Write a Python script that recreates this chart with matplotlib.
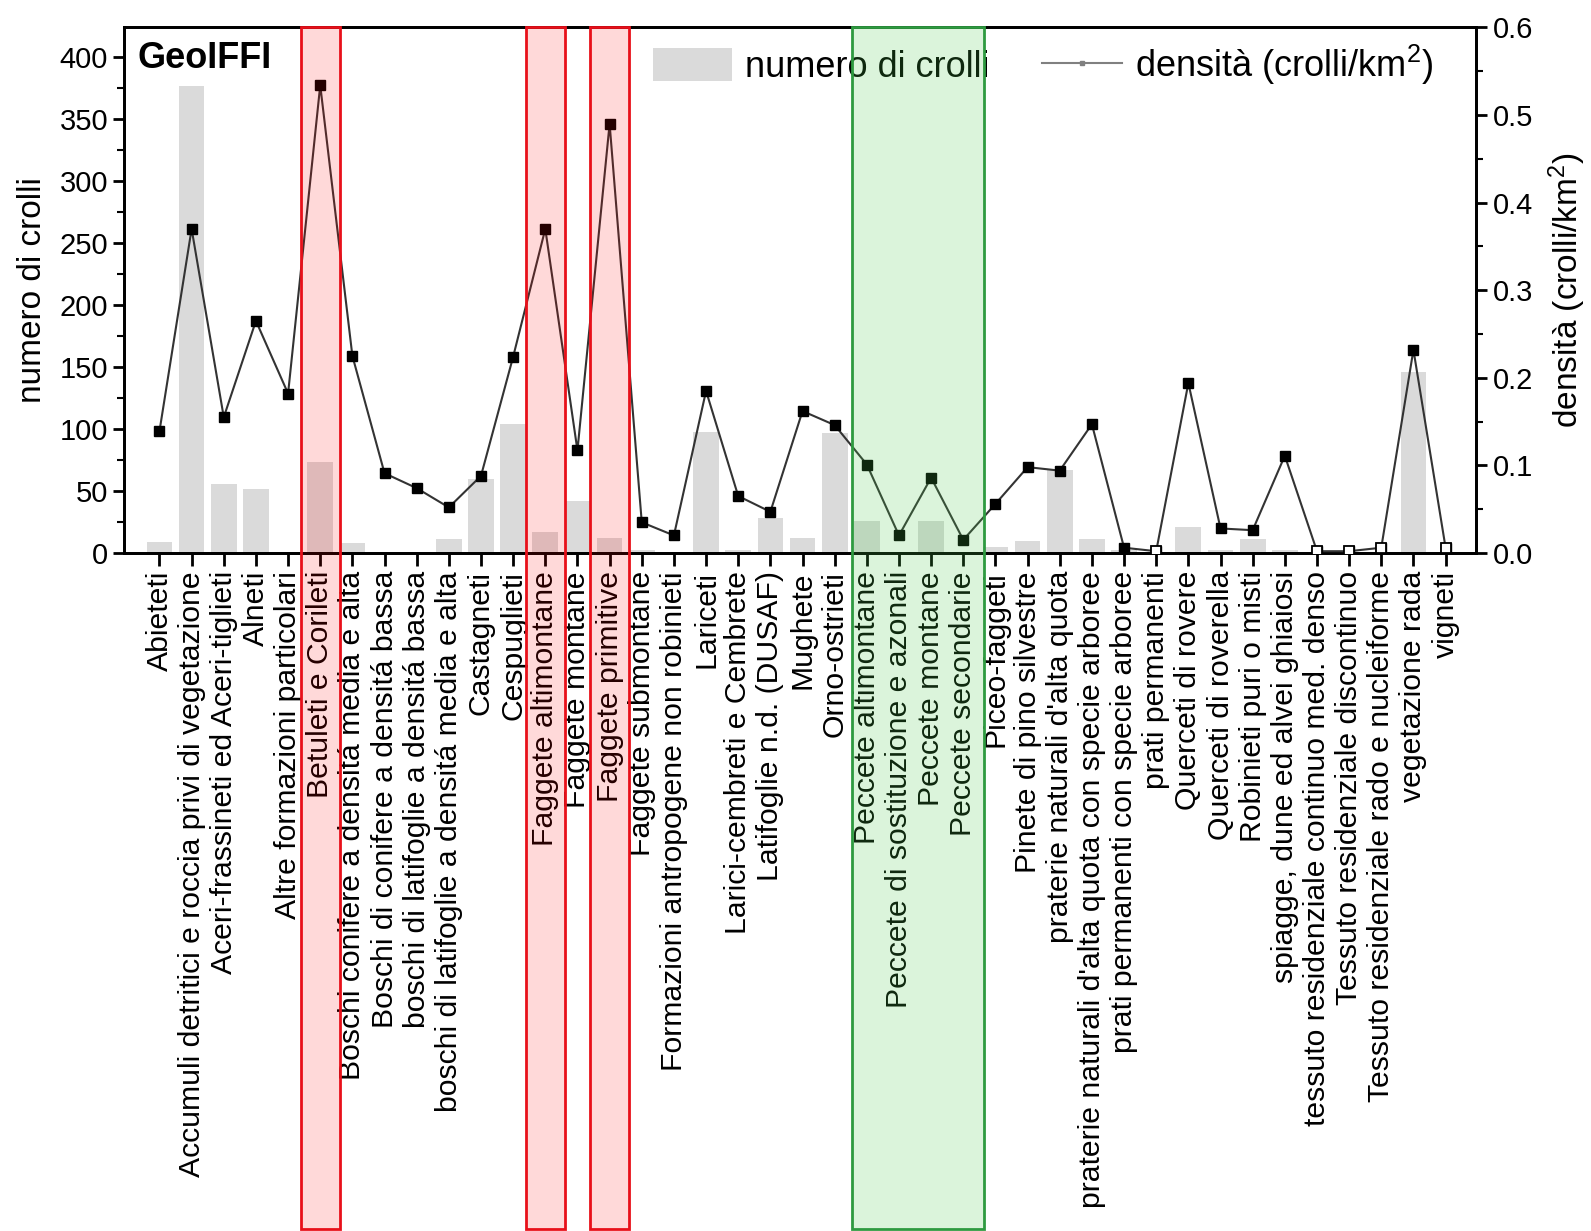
import numpy as np
import matplotlib.pyplot as plt
from matplotlib.patches import Rectangle
from matplotlib.lines import Line2D
from matplotlib.patches import Patch
import matplotlib.transforms as mtransforms

plt.rcParams['font.family'] = ['Liberation Sans', 'DejaVu Sans']
plt.rcParams['mathtext.fontset'] = 'custom'
plt.rcParams['mathtext.rm'] = 'Liberation Sans'
plt.rcParams['mathtext.it'] = 'Liberation Sans'

categorie = [
    'Abieteti',
    'Accumuli detritici e roccia privi di vegetazione',
    'Aceri-frassineti ed Aceri-tiglieti',
    'Alneti',
    'Altre formazioni particolari',
    'Betuleti e Corileti',
    'Boschi conifere a densitá media e alta',
    'Boschi di conifere a densitá bassa',
    'boschi di latifoglie a densitá bassa',
    'boschi di latifoglie a densitá media e alta',
    'Castagneti',
    'Cespuglieti',
    'Faggete altimontane',
    'Faggete montane',
    'Faggete primitive',
    'Faggete submontane',
    'Formazioni antropogene non robinieti',
    'Lariceti',
    'Larici-cembreti e Cembrete',
    'Latifoglie n.d. (DUSAF)',
    'Mughete',
    'Orno-ostrieti',
    'Peccete altimontane',
    'Peccete di sostituzione e azonali',
    'Peccete montane',
    'Peccete secondarie',
    'Piceo-faggeti',
    'Pinete di pino silvestre',
    "praterie naturali d'alta quota",
    "praterie naturali d'alta quota con specie arboree",
    'prati permanenti con specie arboree',
    'prati permanenti',
    'Querceti di rovere',
    'Querceti di roverella',
    'Robinieti puri o misti',
    'spiagge, dune ed alvei ghiaiosi',
    'tessuto residenziale continuo med. denso',
    'Tessuto residenziale discontinuo',
    'Tessuto residenziale rado e nucleiforme',
    'vegetazione rada',
    'vigneti',
]

# numero di crolli (asse sinistro)
n_crolli = [9, 377, 56, 52, 0, 73, 8, 1, 0, 11, 60, 104, 17, 42, 12, 2, 1,
            98, 2, 28, 12, 97, 26, 1, 26, 1, 5, 10, 67, 11, 2, 1, 21, 2, 11,
            2, 0, 0, 1, 146, 1]

# densita' (crolli/km2, asse destro)
densita = [0.139, 0.370, 0.155, 0.265, 0.182, 0.534, 0.225, 0.091, 0.074,
           0.052, 0.088, 0.224, 0.370, 0.117, 0.490, 0.035, 0.020, 0.185,
           0.065, 0.047, 0.162, 0.146, 0.101, 0.020, 0.086, 0.015, 0.056,
           0.098, 0.094, 0.147, 0.006, 0.002, 0.194, 0.028, 0.026, 0.111,
           0.002, 0.002, 0.006, 0.232, 0.006]

# marker vuoti (valori quasi nulli)
vuoti = ['prati permanenti', 'tessuto residenziale continuo med. denso',
         'Tessuto residenziale discontinuo',
         'Tessuto residenziale rado e nucleiforme', 'vigneti']

evid_rosse = ['Betuleti e Corileti', 'Faggete altimontane', 'Faggete primitive']
evid_verde = ['Peccete altimontane', 'Peccete secondarie']

x = np.arange(len(categorie))

fig = plt.figure(figsize=(15.91, 12.31), dpi=100)
ax = fig.add_axes([0.078, 0.5508, 0.850, 0.4269])
ax.bar(x, n_crolli, width=0.8, color='#dadada', zorder=1)
ax.set_xlim(-1.1, 40.96)
ax.set_ylim(0, 424)
ax.set_yticks(np.arange(0, 401, 50))
ax.set_yticks(np.arange(25, 424, 50), minor=True)
ax.set_xticks(x)
ax.set_xticklabels(categorie, rotation=90, fontsize=21.7, va='top', ha='center')
ax.tick_params(axis='y', labelsize=21, direction='out', length=8, width=2)
ax.tick_params(axis='y', which='minor', direction='out', length=5, width=1.5)
ax.tick_params(axis='x', direction='out', length=9, width=2, pad=4)
ax.set_ylabel('numero di crolli', fontsize=24, labelpad=8)
for s in ax.spines.values():
    s.set_linewidth(2)

ax2 = ax.twinx()
ax2.plot(x, densita, color='#333333', lw=1.5, marker='s', ms=7,
         mfc='black', mec='black', zorder=3)
idx_v = [categorie.index(c) for c in vuoti]
ax2.plot(x[idx_v], [densita[i] for i in idx_v], ls='none', marker='s', ms=6.5,
         mfc='white', mec='black', mew=1.3, zorder=4)
ax2.set_ylim(0, 0.6)
ax2.set_yticks(np.arange(0, 0.61, 0.1))
ax2.set_yticks(np.arange(0.05, 0.6, 0.1), minor=True)
ax2.yaxis.set_major_formatter(plt.FormatStrFormatter('%.1f'))
ax2.tick_params(axis='y', labelsize=21, direction='out', length=8, width=2)
ax2.tick_params(axis='y', which='minor', direction='out', length=5, width=1.5)
ax2.set_ylabel('densità (crolli/km$^2$)', fontsize=24, labelpad=10)
for s in ax2.spines.values():
    s.set_linewidth(2)

ax.text(0.01, 0.974, 'GeoIFFI', transform=ax.transAxes, fontsize=26,
        fontweight='bold', va='top', ha='left')

trans = mtransforms.blended_transform_factory(ax.transData, ax.transAxes)
for c in evid_rosse:
    i = categorie.index(c)
    ax2.add_patch(Rectangle((i - 0.6, -1.286), 1.2, 2.286, transform=trans,
                            facecolor=(1, 0, 0, 0.15), edgecolor='#e8101a',
                            lw=2, clip_on=False, zorder=10))
i0 = categorie.index(evid_verde[0])
i1 = categorie.index(evid_verde[1])
ax2.add_patch(Rectangle((i0 - 0.45, -1.286), i1 - i0 + 1.1, 2.286,
                        transform=trans, facecolor=(0.3, 0.8, 0.3, 0.2),
                        edgecolor='#2e9a40', lw=2, clip_on=False, zorder=10))

handles = [Patch(facecolor='#dadada', edgecolor='none'),
           Line2D([0], [0], color='#808080', lw=1.5, marker='s', ms=3,
                  mfc='#808080', mec='#808080')]
ax2.legend(handles, ['numero di crolli', 'densità (crolli/km$^2$)'], ncol=2,
           frameon=False, fontsize=26, loc='upper left',
           bbox_to_anchor=(0.375, 1.012), handlelength=2.2, handleheight=1.0,
           handletextpad=0.36, columnspacing=1.45, borderaxespad=0.2)

fig.savefig('out.png', dpi=100)
